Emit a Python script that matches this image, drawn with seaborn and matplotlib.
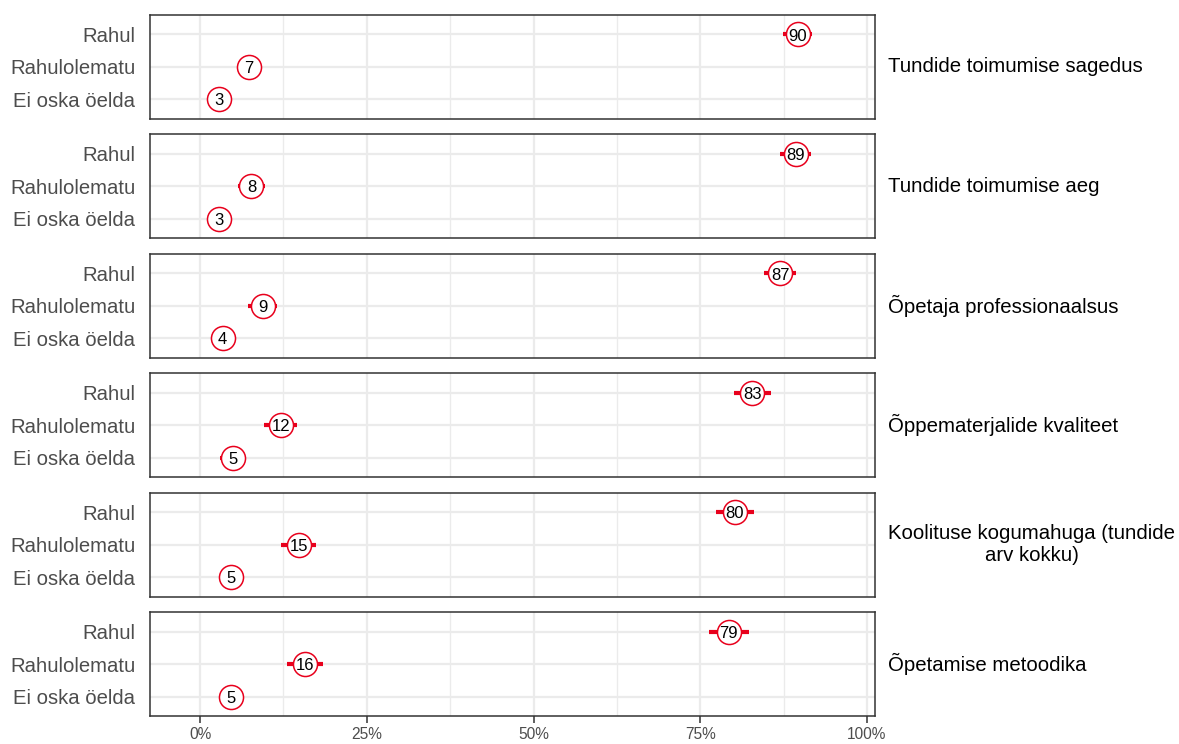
import numpy as np
import pandas as pd
import matplotlib
matplotlib.use("Agg")
import matplotlib.pyplot as plt
import seaborn as sns

# ---- data ----
panels = ["Tundide toimumise sagedus", "Tundide toimumise aeg", "Õpetaja professionaalsus",
          "Õppematerjalide kvaliteet", "Koolituse kogumahuga (tundide\narv kokku)", "Õpetamise metoodika"]
categories = ["Rahul", "Rahulolematu", "Ei oska öelda"]
values = [
    [89.6, 7.3, 2.9],
    [89.3, 7.7, 2.9],
    [87.0, 9.4, 3.4],
    [82.8, 12.1, 4.9],
    [80.2, 14.8, 4.6],
    [79.3, 15.7, 4.6],
]
labels = [
    [90, 7, 3],
    [89, 8, 3],
    [87, 9, 4],
    [83, 12, 5],
    [80, 15, 5],
    [79, 16, 5],
]
errors = [
    [2.2, 1.8, 1.4],
    [2.3, 2.0, 1.4],
    [2.4, 2.2, 1.6],
    [2.8, 2.5, 1.9],
    [2.9, 2.6, 1.8],
    [3.0, 2.7, 1.7],
]
xticks = [0, 25, 50, 75, 100]
xticklabels = ["0%", "25%", "50%", "75%", "100%"]

RED = "#e8001c"

sns.set_theme(style="whitegrid")
plt.rcParams["font.family"] = ["Liberation Sans", "DejaVu Sans"]

fig, axes = plt.subplots(6, 1, figsize=(11.79, 7.44), dpi=100, sharex=True)
fig.subplots_adjust(left=150/1179, right=875/1179, top=1-15/744, bottom=1-716/744, hspace=0.154)

for i, ax in enumerate(axes):
    df = pd.DataFrame({"cat": categories, "y": [0, 1, 2], "value": values[i],
                       "err": errors[i], "label": labels[i]})
    ax.errorbar(df["value"], df["y"], xerr=df["err"], fmt="none", ecolor=RED,
                elinewidth=3, capsize=0, zorder=2)
    sns.scatterplot(data=df, x="value", y="y", ax=ax, s=300, marker="o",
                    facecolor="white", edgecolor=RED, linewidth=1.1, zorder=3, legend=False)
    for _, r in df.iterrows():
        ax.text(r["value"], r["y"] + 0.05, str(r["label"]), ha="center", va="center",
                fontsize=12, color="black", zorder=4)
    ax.set_xlim(-7.5, 101.2)
    ax.set_ylim(2.6, -0.6)
    ax.set_yticks([0, 1, 2])
    ax.set_yticklabels(categories, fontsize=14.6, color="#4d4d4d")
    ax.set_xticks(xticks)
    ax.set_xticks([12.5, 37.5, 62.5, 87.5], minor=True)
    ax.set_xlabel("")
    ax.set_ylabel("")
    ax.set_facecolor("white")
    ax.grid(which="major", axis="both", color="#ebebeb", linewidth=1.6)
    ax.grid(which="minor", axis="x", color="#ebebeb", linewidth=1.0)
    ax.set_axisbelow(True)
    for sp in ax.spines.values():
        sp.set_visible(True)
        sp.set_color("#333333")
        sp.set_linewidth(1.1)
    ax.tick_params(axis="y", length=0, pad=10.5)
    ax.tick_params(axis="x", which="minor", length=0)
    pos = ax.get_position()
    fig.text(888/1179, (pos.y0 + pos.y1) / 2, panels[i], ha="left", va="center",
             fontsize=14.7, color="black", multialignment="center")

axes[-1].set_xticklabels(xticklabels, fontsize=11.2, color="#4d4d4d")
axes[-1].tick_params(axis="x", which="major", length=5, width=1.1, color="#333333",
                     bottom=True, pad=3)

fig.savefig("out.png", dpi=100)
